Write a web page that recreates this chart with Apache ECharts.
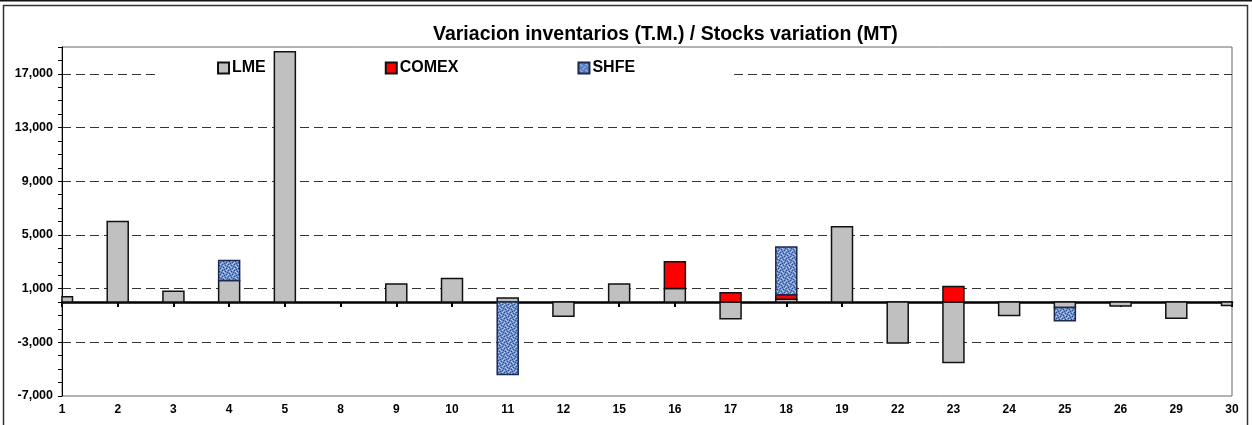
<!DOCTYPE html>
<html>
<head>
<meta charset="utf-8">
<script src="https://cdn.jsdelivr.net/npm/echarts@6/dist/echarts.min.js"></script>
<style>
html,body{margin:0;padding:0;background:#fff;}
#chart{width:1252px;height:425px;}
</style>
</head>
<body>
<div id="chart"></div>
<script>
// ---- data ----
const categories = ['1','2','3','4','5','8','9','10','11','12','15','16','17','18','19','22','23','24','25','26','29','30'];
const lme   = [400, 6000, 800, 1600, 18650, null, 1350, 1750, 300, -1050, 1350, 1000, -1250, 200, 5600, -3050, -4500, -1000, -400, -300, -1200, -250];
const comex = [null, null, null, null, null, null, null, null, null, null, null, 2000, 700, 350, null, null, 1150, null, null, null, null, null];
const shfe  = [null, null, null, 1500, null, null, null, null, -5400, null, null, null, null, 3550, null, null, null, null, -1000, null, null, null];
const yMin = -7000, yMax = 19000, yMinorStep = 1000, yMajorStep = 4000;
const titleText = 'Variacion inventarios (T.M.) / Stocks variation (MT)';

// texture for SHFE
function makePattern(){
  const c = document.createElement('canvas');
  c.width = 6; c.height = 6;
  const g = c.getContext('2d');
  g.fillStyle = '#6a8ed4'; g.fillRect(0,0,6,6);
  g.fillStyle = '#2a4b8e';
  [[0,0],[3,1],[1,3],[4,4],[5,2],[2,5]].forEach(p=>g.fillRect(p[0],p[1],1,1));
  g.fillStyle = '#b9cdf2';
  [[1,1],[4,0],[2,2],[0,4],[5,5],[3,3]].forEach(p=>g.fillRect(p[0],p[1],1,1));
  return c;
}
const shfeFill = {image: makePattern(), repeat: 'repeat'};

// same-sign stacking: [categoryIndex, value, base]
const seriesList = [lme, comex, shfe];
const stacked = seriesList.map(() => []);
categories.forEach((_, i) => {
  let pos = 0, neg = 0;
  seriesList.forEach((arr, s) => {
    const v = arr[i];
    if (v == null) return;
    if (v >= 0) { stacked[s].push([i, v, pos]); pos += v; }
    else { stacked[s].push([i, v, neg]); neg += v; }
  });
});

const BAR_W = 21;
function makeRender(fill, stroke){
  return function(params, api){
    const i = api.value(0), v = api.value(1), b = api.value(2);
    const a = api.coord([i, b]), c = api.coord([i, b + v]);
    const rect = {x: a[0] - BAR_W / 2, y: Math.min(a[1], c[1]), width: BAR_W, height: Math.abs(a[1] - c[1])};
    const cs = params.coordSys;
    const clipped = echarts.graphic.clipRectByRect(rect, {x: cs.x, y: cs.y, width: cs.width, height: cs.height});
    if (!clipped) return;
    return {type: 'rect', shape: clipped, style: {fill: fill, stroke: stroke, lineWidth: 1.5}};
  };
}

const font = 'Arial, "Liberation Sans", sans-serif';
const gl = [];
for (let v = yMin; v <= yMax; v += yMinorStep) {
  gl.push(((v - yMin) % yMajorStep === 0 && v !== yMin) ? '#333' : 'rgba(0,0,0,0)');
}

const styles = [
  {name: 'LME', fill: '#c0c0c0', stroke: '#111'},
  {name: 'COMEX', fill: '#ff0000', stroke: '#111'},
  {name: 'SHFE', fill: shfeFill, stroke: '#1a2a50'}
];

const chart = echarts.init(document.getElementById('chart'), null, {renderer:'canvas'});
chart.setOption({
  animation: false,
  backgroundColor: '#fff',
  textStyle: {fontFamily: font},
  title: {
    text: titleText, left: 428, top: 20,
    textStyle: {fontSize: 19.5, fontWeight: 'bold', color: '#000', fontFamily: font}
  },
  legend: {
    left: 158, top: 56, z: 1,
    backgroundColor: '#fff',
    padding: [4, 99, 4, 59],
    itemGap: 119, itemWidth: 11, itemHeight: 11, icon: 'rect',
    textStyle: {fontSize: 16, fontWeight: 'bold', color: '#000', fontFamily: font, padding: [0,0,0,-2]},
    data: ['LME','COMEX','SHFE']
  },
  graphic: [
    {type:'line', shape:{x1:0,y1:0.5,x2:1252,y2:0.5}, style:{stroke:'#111', lineWidth:2}, silent:true},
    {type:'rect', shape:{x:3.5,y:5.5,width:1244,height:430}, style:{fill:'none', stroke:'#333', lineWidth:1.5}, silent:true}
  ],
  grid: {left: 62, right: 20, top: 47, bottom: 29, show: true, borderColor: '#666', borderWidth: 1},
  xAxis: [
    {
      type: 'category', data: categories, boundaryGap: false, position: 'bottom',
      axisLine: {show: false, onZero: false},
      axisTick: {show: false},
      axisLabel: {fontSize: 12, fontWeight: 'bold', color: '#000', margin: 8, fontFamily: font, interval: 0},
      splitLine: {show: false}
    },
    {
      type: 'category', data: categories, boundaryGap: false, position: 'top',
      axisLine: {show: true, onZero: true, lineStyle: {color: '#000', width: 2.5}},
      axisTick: {show: true, inside: true, length: 5, alignWithLabel: true, interval: 0, lineStyle: {color: '#000', width: 2}},
      axisLabel: {show: false},
      splitLine: {show: false}
    }
  ],
  yAxis: {
    type: 'value', min: yMin, max: yMax, interval: yMinorStep,
    axisLine: {show: true, lineStyle: {color: '#000', width: 1}},
    axisTick: {show: true, length: 4, lineStyle: {color: '#000'}},
    axisLabel: {
      fontSize: 12.5, fontWeight: 'bold', color: '#000', margin: 9, fontFamily: font,
      formatter: v => ((v - yMin) % yMajorStep === 0) ? v.toLocaleString('en-US') : ''
    },
    splitLine: {show: true, lineStyle: {type: [9, 5], color: gl, width: 1}}
  },
  series: styles.map((st, s) => ({
    name: st.name, type: 'custom', xAxisIndex: 0, yAxisIndex: 0, z: 3,
    data: stacked[s],
    encode: {x: 0, y: 1},
    itemStyle: {color: st.fill, borderColor: st.stroke, borderWidth: 1.5},
    renderItem: makeRender(st.fill, st.stroke)
  }))
});
</script>
</body>
</html>
